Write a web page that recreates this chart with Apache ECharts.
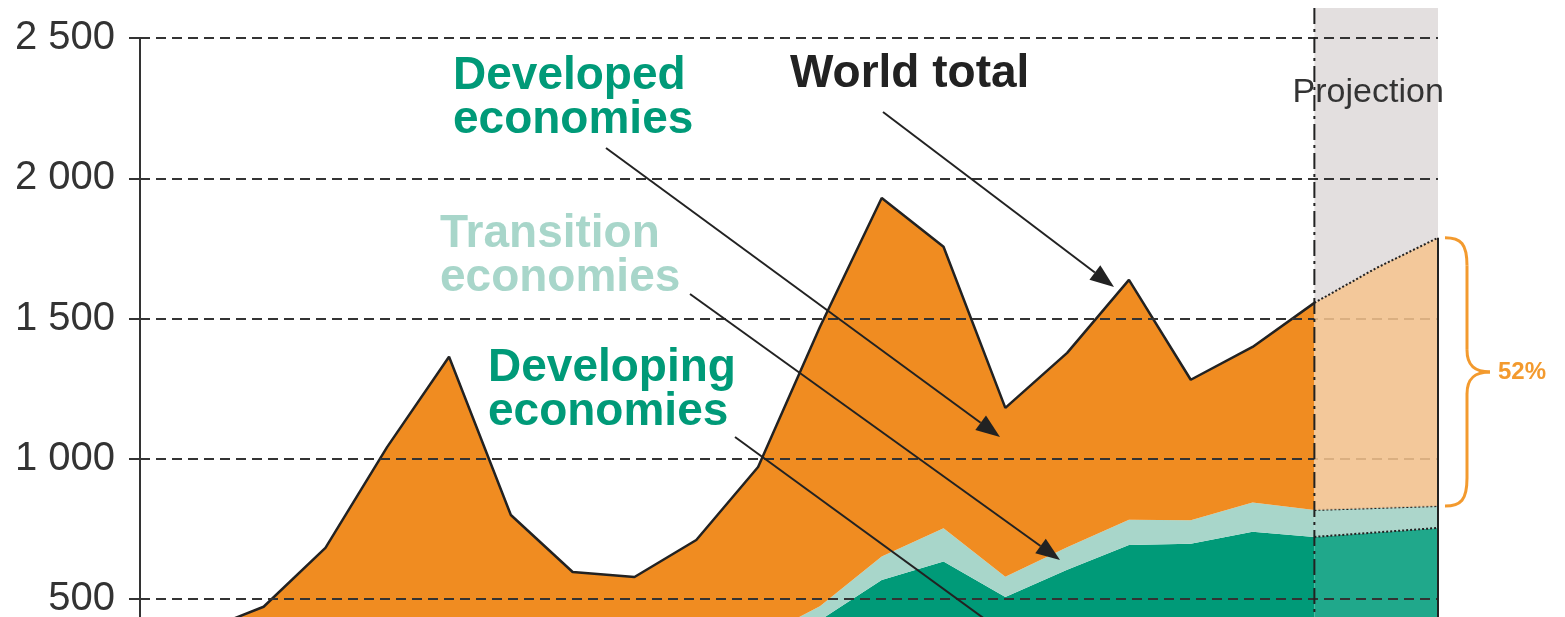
<!DOCTYPE html>
<html>
<head>
<meta charset="utf-8">
<script src="https://cdn.jsdelivr.net/npm/echarts@6/dist/echarts.min.js"></script>
<style>
  html, body { margin: 0; padding: 0; background: #fff; }
  #chart { width: 1565px; height: 617px; }
</style>
</head>
<body>
<div id="chart"></div>
<script>
// FDI inflows, billions of dollars (early years lie below the visible crop)
const years = ['1995','1996','1997','1998','1999','2000','2001','2002','2003','2004','2005',
               '2006','2007','2008','2009','2010','2011','2012','2013','2014','2015','2016'];
const developing = [115,150,190,190,230,260,220,180,200,280,330,425,568,634,508,605,693,698,740,722,738,754];
const transition = [5,6,10,9,8,7,9,12,20,30,30,50,84,119,72,80,90,83,105,96,87,78];
const developed  = [220,230,273,484,805,1097,571,405,359,401,611,995,1278,1003,602,693,855,501,554,738,855,956];
const projStart = 19;   // first year of the projection
const yTicks = [0, 500, 1000, 1500, 2000, 2500];
const shareLabel = '52%';

const FONT = '"Liberation Sans", Arial, Helvetica, sans-serif';
const TEAL = '#009a78';
const LIGHT_TEAL = '#a8d6ca';
const ORANGE = '#f08c21';
const INK = '#222';

const hist = arr => arr.map((v, i) => (i <= projStart ? v : null));
const proj = arr => arr.map((v, i) => (i >= projStart ? v : null));

const mychart = echarts.init(document.getElementById('chart'));

function areaSeries(name, data, stack, color, line, z) {
  return {
    name: name,
    type: 'line',
    stack: stack,
    data: data,
    symbol: 'none',
    z: z || 2,
    lineStyle: line || { opacity: 0 },
    areaStyle: { color: color, opacity: 1 }
  };
}

const dotted = { color: INK, width: 2, type: 'dotted' };

let option = {
  animation: false,
  grid: { left: 140, top: 38, width: 1298, height: 701.5, outerBoundsMode: 'none', containLabel: false },
  xAxis: {
    type: 'category',
    data: years,
    boundaryGap: false,
    show: false
  },
  yAxis: {
    type: 'value',
    min: yTicks[0],
    max: yTicks[yTicks.length - 1],
    interval: 500,
    z: 3,
    axisLine: { show: true, lineStyle: { color: '#333', width: 2 } },
    axisTick: { show: true, length: 11, lineStyle: { color: '#333', width: 2 } },
    axisLabel: {
      margin: 25,
      color: '#333',
      fontFamily: FONT,
      fontSize: 40,
      padding: [0, 0, 11, 0],
      formatter: v => String(v).replace(/\B(?=(\d{3})+(?!\d))/g, ' ')
    },
    splitLine: { show: true, lineStyle: { color: '#333', width: 2, type: [10, 6] } }
  },
  series: [
    areaSeries('Developing economies', hist(developing), 'hist', TEAL),
    areaSeries('Transition economies', hist(transition), 'hist', LIGHT_TEAL),
    areaSeries('Developed economies', hist(developed), 'hist', ORANGE, { color: INK, width: 2.5 }),
    areaSeries('Developing (proj.)', proj(developing), 'proj', '#20a88b', dotted),
    areaSeries('Transition (proj.)', proj(transition), 'proj', '#acd6cb', dotted),
    areaSeries('Developed (proj.)', proj(developed), 'proj', 'rgba(246,196,142,0.86)', dotted, 4)
  ]
};

mychart.setOption(option);

// decorations placed from the axes
const last = years.length - 1;
const total = i => developing[i] + transition[i] + developed[i];
const px = (i, v) => mychart.convertToPixel({ xAxisIndex: 0, yAxisIndex: 0 }, [i, v]);
const [xp] = px(projStart, 0);
const [xe, yTop] = px(last, total(last));
const [, yBot] = px(last, developing[last] + transition[last]);
const H = 617;

function arrow(x1, y1, x2, y2) {
  const a = Math.atan2(y2 - y1, x2 - x1);
  const L = 24, W = 9;
  const bx = x2 - L * Math.cos(a), by = y2 - L * Math.sin(a);
  return [
    { type: 'line', z: 10, shape: { x1: x1, y1: y1, x2: bx, y2: by }, style: { stroke: INK, lineWidth: 2 } },
    { type: 'polygon', z: 10, shape: { points: [[x2, y2],
        [bx + W * Math.sin(a), by - W * Math.cos(a)],
        [bx - W * Math.sin(a), by + W * Math.cos(a)]] }, style: { fill: INK } }
  ];
}

function label(text, x, y, color) {
  return { type: 'text', z: 10, x: x, y: y,
    style: { text: text, fill: color, font: 'bold 46px ' + FONT, lineHeight: 44, verticalAlign: 'top' } };
}

// curly brace built from bezier pieces
const braceStyle = { stroke: '#f39a2e', lineWidth: 3, fill: null };
function curve(x1, y1, cx1, cy1, cx2, cy2, x2, y2) {
  return { type: 'bezierCurve', z: 10, style: braceStyle,
    shape: { x1: x1, y1: y1, cpx1: cx1, cpy1: cy1, cpx2: cx2, cpy2: cy2, x2: x2, y2: y2 } };
}
const ym = (yTop + yBot) / 2;
const b0 = xe + 7, b1 = xe + 29, b2 = xe + 52;
const brace = [
  curve(b0, yTop, b0 + 16, yTop, b1, yTop + 6, b1, yTop + 28),
  { type: 'line', z: 10, style: braceStyle, shape: { x1: b1, y1: yTop + 28, x2: b1, y2: ym - 22 } },
  curve(b1, ym - 22, b1, ym - 6, b1 + 8, ym, b2, ym),
  curve(b2, ym, b1 + 8, ym, b1, ym + 6, b1, ym + 22),
  { type: 'line', z: 10, style: braceStyle, shape: { x1: b1, y1: ym + 22, x2: b1, y2: yBot - 28 } },
  curve(b1, yBot - 28, b1, yBot - 6, b0 + 16, yBot, b0, yBot)
];

mychart.setOption({
  graphic: [
    { type: 'rect', z: 0, shape: { x: xp, y: 8, width: xe - xp, height: H - 8 }, style: { fill: '#e3dfdf' } },
    { type: 'line', z: 10, shape: { x1: xp, y1: 8, x2: xp, y2: H }, style: { stroke: INK, lineWidth: 2, lineDash: [16, 5, 3, 5] } },
    { type: 'line', z: 10, shape: { x1: xe, y1: yTop, x2: xe, y2: H }, style: { stroke: INK, lineWidth: 2 } },
    { type: 'text', z: 10, x: (xp + xe) / 2 - 8, y: 93,
      style: { text: 'Projection', fill: '#333', font: '34px ' + FONT, align: 'center', verticalAlign: 'middle' } },
    { type: 'text', z: 10, x: b2 + 8, y: ym,
      style: { text: shareLabel, fill: '#f39a2e', font: 'bold 24px ' + FONT, verticalAlign: 'middle' } },
    label('Developed\neconomies', 453, 54, TEAL),
    label('World total', 790, 52, INK),
    label('Transition\neconomies', 440, 212, LIGHT_TEAL),
    label('Developing\neconomies', 488, 346, TEAL)
  ].concat(
    brace,
    arrow(883, 112, 1114, 287),
    arrow(606, 148, 1000, 437),
    arrow(690, 294, 1060, 560),
    arrow(735, 437, 1100, 703)
  )
});
</script>
</body>
</html>
